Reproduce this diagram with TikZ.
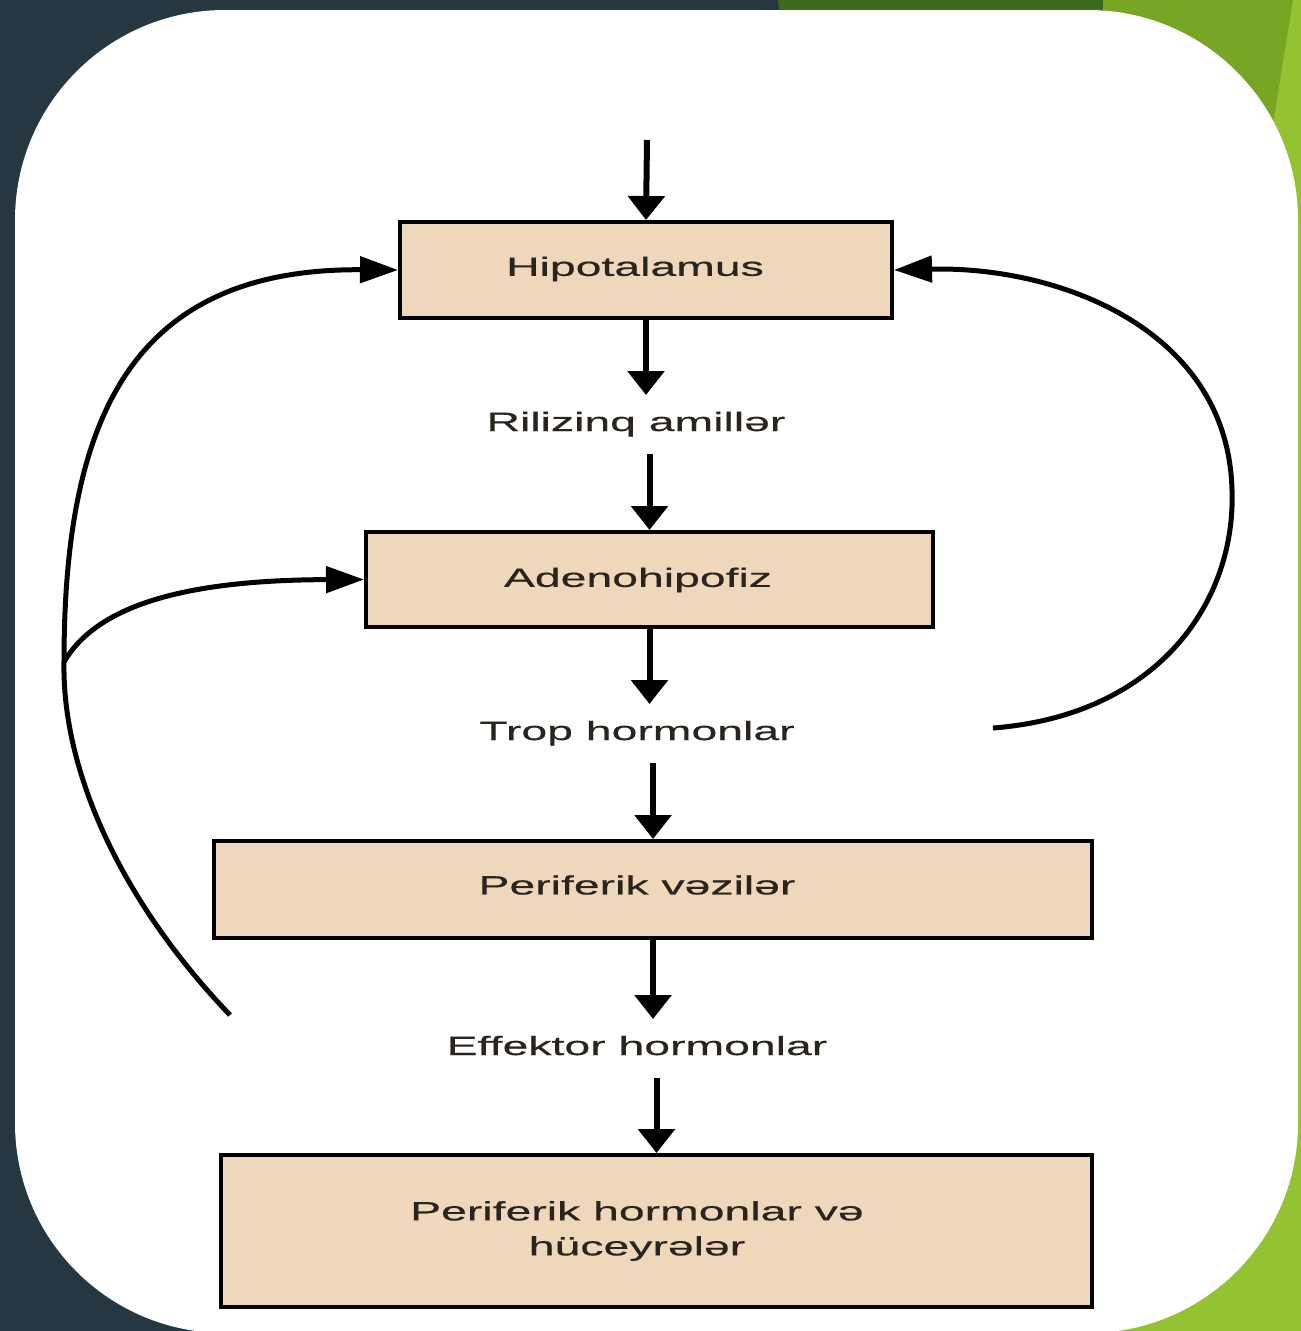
\documentclass[tikz,border=0pt]{standalone}
\usepackage{fontspec}
\setmainfont{Liberation Sans}[FakeStretch=1.75,FakeBold=0.4]
\usetikzlibrary{arrows.meta}
\definecolor{slate}{HTML}{253842}
\definecolor{darkgreen}{HTML}{3D6B1E}
\definecolor{midgreen}{HTML}{76A624}
\definecolor{lightgreen}{HTML}{93C233}
\definecolor{boxfill}{HTML}{EED7BB}
\definecolor{ink}{HTML}{2A241E}
\newcommand{\bodyfont}{\fontsize{26.5}{35}\selectfont}
\begin{document}
\begin{tikzpicture}[x=1pt,y=-1pt,
  box/.style={draw=black, line width=4pt, fill=boxfill, inner sep=0pt},
  boxtext/.style={text=ink, inner sep=0pt, align=center, font=\bodyfont},
  lab/.style={text=ink, inner sep=0pt, outer xsep=0pt, outer ysep=17pt,
    text height=19pt, text depth=6pt, font=\bodyfont},
  flow/.style={line width=6pt, -{Triangle[width=36pt,length=24pt]}},
  fb/.style={line width=5pt, -{Triangle[width=26pt,length=38pt]}}]

% slide background
\fill[slate] (0,0) rectangle (1301,1331);
\useasboundingbox (0,0) rectangle (1301,1331);
\fill[darkgreen] (778,0) -- (1301,0) -- (1301,40) -- (782,40) -- cycle;
\fill[midgreen] (1103,0) -- (1301,0) -- (1301,1331) -- (1103,1331) -- cycle;
\fill[lightgreen] (1293,0) -- (1301,0) -- (1301,1331) -- (1080,1331) -- cycle;

% white panel
\fill[white, rounded corners=210pt] (15,10) rectangle (1298,1333);

% boxes
\node[box, minimum width=492pt, minimum height=96pt] (hypo) at (646,270) {};
\node[box, minimum width=567pt, minimum height=95pt] (adeno) at (649.5,579.5) {};
\node[box, minimum width=878pt, minimum height=97pt] (vez) at (653,889.5) {};
\node[box, minimum width=871pt, minimum height=152pt] (perh) at (656.5,1231) {};

% box captions
\node[boxtext] (hypoT) at (635,269) {Hipotalamus};
\node[boxtext] (adenoT) at (638,580) {Adenohipofiz};
\node[boxtext] (vezT) at (637,885) {Periferik vəzilər};
\node[boxtext] (perhT) at (637,1231) {Periferik hormonlar və\\hüceyrələr};

% intermediate labels
\node[lab, anchor=base] (rel) at (636,431) {Rilizinq amillər};
\node[lab, anchor=base] (trop) at (637,740) {Trop hormonlar};
\node[lab, anchor=base] (eff) at (637,1055) {Effektor hormonlar};

% main cascade
\coordinate (src) at (647,140);
\draw[flow] (src) -- (hypo.north);
\draw[flow] (hypo.south) -- (hypo.south |- rel.north);
\draw[flow] (rel.south -| adeno.north) -- (adeno.north);
\draw[flow] (adeno.south) -- (adeno.south |- trop.north);
\draw[flow] (trop.south -| vez.north) -- (vez.north);
\draw[flow] (vez.south) -- (vez.south |- eff.north);
\draw[flow] (eff.south -| perh.north) -- (perh.north);

% feedback loops
\coordinate (fbL) at (230,1015);
\coordinate (fbJ) at (64,662);
\coordinate (fbR) at (993,728);
\draw[fb] (fbL) .. controls (120,900) and (62,770) .. (fbJ)
  .. controls (64,420) and (130,268) .. (hypo.west);
\draw[fb] (fbJ) .. controls (100,600) and (200,580) .. (adeno.west);
\draw[fb] (fbR) .. controls (1160,715) and (1236,600) .. (1232,490)
  .. controls (1228,330) and (1060,266) .. (hypo.east);
\end{tikzpicture}
\end{document}
